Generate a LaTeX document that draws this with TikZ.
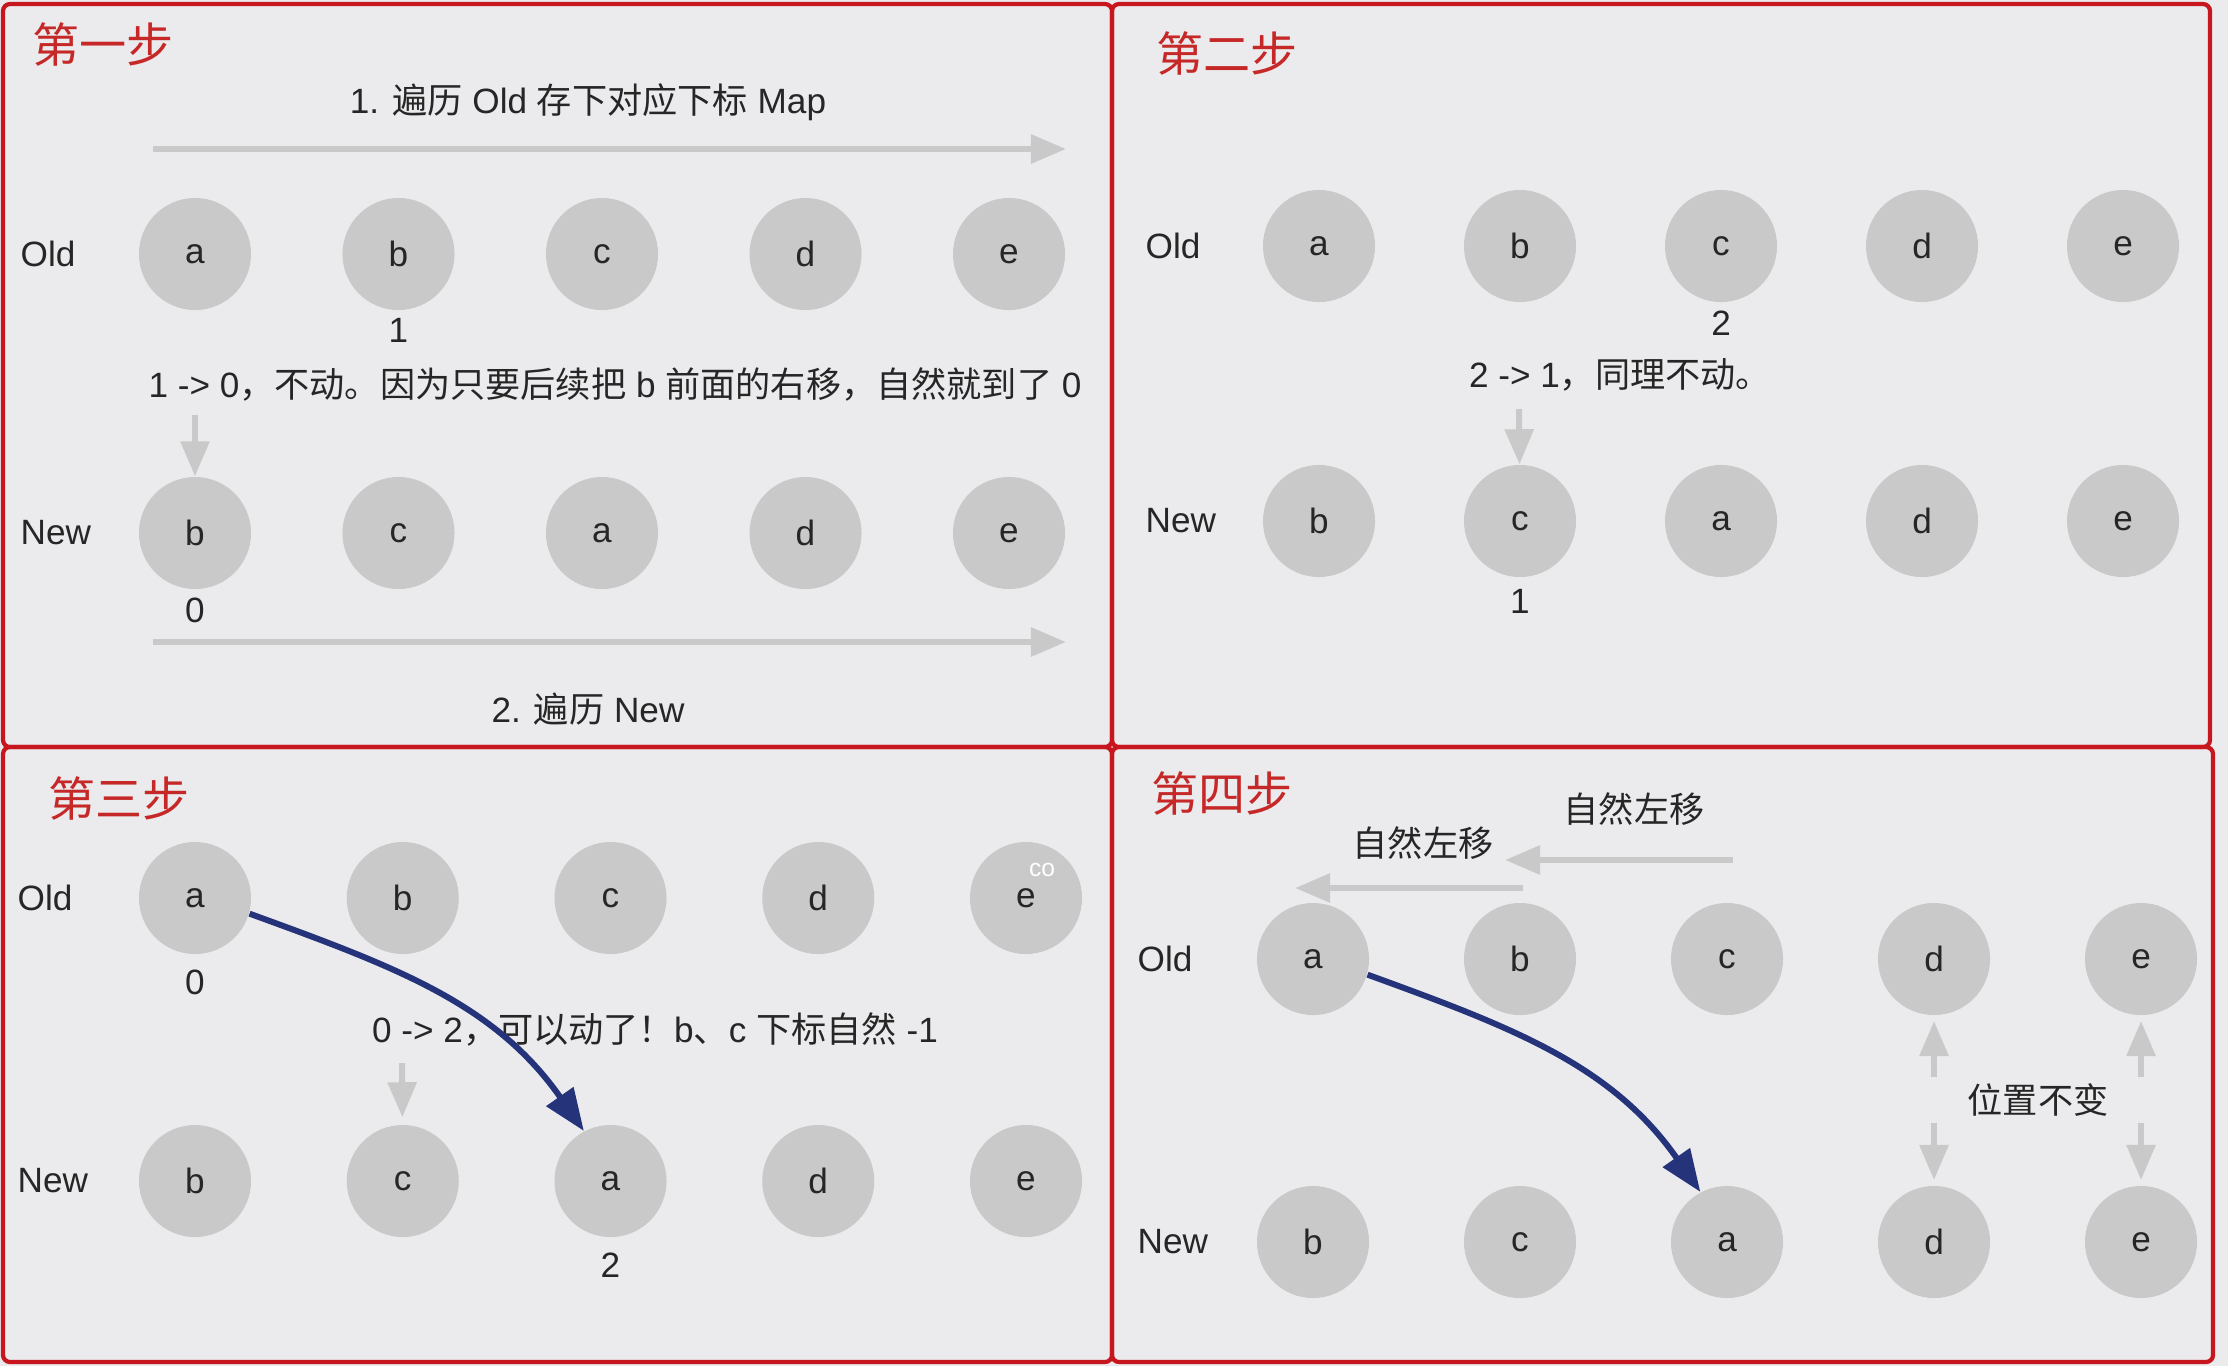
\documentclass[tikz,border=0pt]{standalone}
\usepackage{fontspec}
\setmainfont{Liberation Sans}
\newfontfamily\cjk{Noto Sans CJK SC}
\usepackage{tikz}
\usetikzlibrary{arrows.meta,positioning}
\definecolor{paper}{HTML}{EBEBED}
\definecolor{disc}{HTML}{C9C9C9}
\definecolor{frame}{HTML}{C8161E}
\definecolor{navy}{HTML}{25337A}
\definecolor{ink}{HTML}{262626}
\definecolor{rust}{HTML}{C62828}

\begin{document}
\begin{tikzpicture}[x=0.01cm,y=-0.01cm,font=\fontsize{10}{12}\selectfont,text=ink,
  panel/.style={draw=frame,line width=1.2pt,rounded corners=2pt},
  title/.style={text=rust,font=\fontsize{13.4}{16}\selectfont\cjk},
  ball/.style={circle,fill=disc,minimum size=1.12cm,inner sep=0pt},
  row/.style={anchor=west,inner sep=0pt},
  idx/.style={inner sep=2pt},
  garrow/.style={disc,line width=1.7pt,-{Triangle[length=0.35cm,width=0.28cm]}},
  barrow/.style={navy,line width=1.7pt,-{Triangle[length=0.42cm,width=0.32cm]}}]
  \fill[paper] (0,0) rectangle (2228,1366);
  \useasboundingbox (0,0) rectangle (2228,1366);

  % step 1
  \draw[panel] (3,4) rectangle (1112,747);
  \node[title] (t1) at (103,44) {第一步};
  \node (h1) at (588,102) {1. {\cjk 遍历} Old {\cjk 存下对应下标} Map};
  \coordinate (s1) at (153,149); \coordinate (e1) at (1066,149);
  \draw[garrow] (s1) -- (e1);
  \node[row] (old1) at (20,254) {Old};
  \node[row] (new1) at (20,533) {New};
  \foreach \l [count=\i] in {a,b,c,d,e}
     \node[ball] (p1o\i) at ({195+203.5*(\i-1)},254) {\l};
  \foreach \l [count=\i] in {b,c,a,d,e}
     \node[ball] (p1n\i) at ({195+203.5*(\i-1)},533) {\l};
  \node[idx,below=0pt of p1o2] (i1) {1};
  \node[idx,below=0pt of p1n1] (j1) {0};
  \node (m1) at (615,384) {1 -> 0{\cjk ，不动。因为只要后续把} b {\cjk 前面的右移，自然就到了} 0};
  \coordinate (d1) at (195,415);
  \draw[garrow] (d1) -- (p1n1);
  \coordinate (s2) at (153,642); \coordinate (e2) at (1066,642);
  \draw[garrow] (s2) -- (e2);
  \node (f1) at (588,709) {2. {\cjk 遍历} New};

  % step 2
  \draw[panel] (1112,4) rectangle (2210,747);
  \node[title] (t2) at (1227,53) {第二步};
  \node[row] (old2) at (1145,246) {Old};
  \node[row] (new2) at (1145,521) {New};
  \foreach \l [count=\i] in {a,b,c,d,e}
     \node[ball] (p2o\i) at ({1319+201*(\i-1)},246) {\l};
  \foreach \l [count=\i] in {b,c,a,d,e}
     \node[ball] (p2n\i) at ({1319+201*(\i-1)},521) {\l};
  \node[idx,below=0pt of p2o3] (i2) {2};
  \node[idx,below=1pt of p2n2] (j2) {1};
  \node (m2) at (1620,375) {2 -> 1{\cjk ，同理不动。}};
  \coordinate (d2) at (1519,409);
  \draw[garrow] (d2) -- (p2n2);

  % step 3
  \draw[panel] (3,747) rectangle (1112,1362);
  \node[title] (t3) at (119,798) {第三步};
  \node[row] (old3) at (17,898) {Old};
  \node[row] (new3) at (17,1181) {New};
  \foreach \l [count=\i] in {a,b,c,d,e}
     \node[ball] (p3o\i) at ({195+207.75*(\i-1)},898) {\l};
  \foreach \l [count=\i] in {b,c,a,d,e}
     \node[ball] (p3n\i) at ({195+207.75*(\i-1)},1181) {\l};
  \node[text=white,font=\fontsize{7}{8}\selectfont] (co) at (1042,870) {co};
  \node[idx,below=2pt of p3o1] (i3) {0};
  \node[idx,below=2pt of p3n3] (j3) {2};
  \node (m3) at (655,1029) {0 -> 2{\cjk ，可以动了！}b{\cjk 、}c {\cjk 下标自然} -1};
  \coordinate (d3) at (402,1063);
  \draw[garrow,shorten >=2pt] (d3) -- (p3n2);
  \draw[barrow] (p3o1.-16) to[out=-20,in=125] (p3n3.118);

  % step 4
  \draw[panel] (1112,747) rectangle (2213,1362);
  \node[title] (t4) at (1222,793) {第四步};
  \node[row] (old4) at (1137,959) {Old};
  \node[row] (new4) at (1137,1242) {New};
  \foreach \l [count=\i] in {a,b,c,d,e}
     \node[ball] (p4o\i) at ({1313+207*(\i-1)},959) {\l};
  \foreach \l [count=\i] in {b,c,a,d,e}
     \node[ball] (p4n\i) at ({1313+207*(\i-1)},1242) {\l};
  \node (l4a) at (1634,809) {\cjk 自然左移};
  \node (l4b) at (1423,843) {\cjk 自然左移};
  \coordinate (s4a) at (1733,860); \coordinate (e4a) at (1505,860);
  \draw[garrow] (s4a) -- (e4a);
  \coordinate (s4b) at (1523,888); \coordinate (e4b) at (1295,888);
  \draw[garrow] (s4b) -- (e4b);
  \draw[barrow] (p4o1.-16) to[out=-20,in=125] (p4n3.118);
  \node (k4) at (2038,1100) {\cjk 位置不变};
  \foreach \i in {4,5} {
    \coordinate (u\i) at ({1313+207*(\i-1)},1077);
    \coordinate (w\i) at ({1313+207*(\i-1)},1123);
    \draw[garrow,shorten >=1.5pt] (u\i) -- (p4o\i);
    \draw[garrow,shorten >=1.5pt] (w\i) -- (p4n\i);
  }
\end{tikzpicture}
\end{document}
